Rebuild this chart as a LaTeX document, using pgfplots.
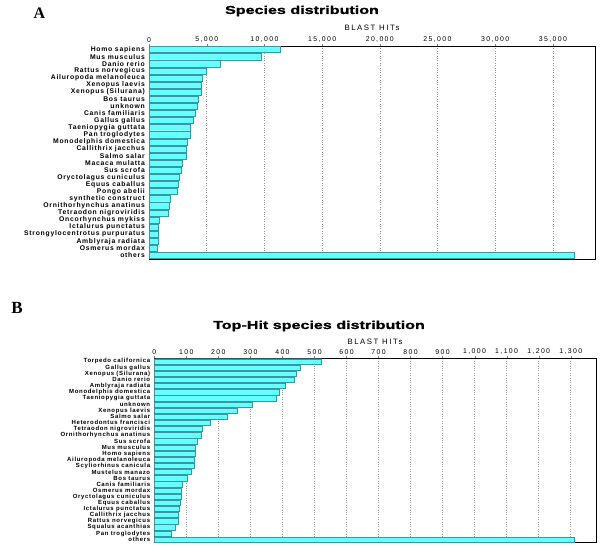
\documentclass[border=0pt]{standalone}
\usepackage{fontspec}
\usepackage{pgfplots}
\pgfplotsset{compat=1.18}
\setmainfont{Liberation Sans}
\newfontfamily\catfont[LetterSpace=11]{Liberation Sans}
\newfontfamily\tickfont[LetterSpace=20]{Liberation Sans}
\newfontfamily\titlefont[FakeStretch=1.4,FakeBold=1.2]{Liberation Sans Bold}
\newfontfamily\panelfont{Liberation Serif}
\definecolor{barfill}{RGB}{102,255,255}
\definecolor{baredge}{RGB}{60,150,160}
\pgfplotsset{
  hitaxis/.style={
    scale only axis, xbar, y dir=reverse,
    bar width=0.86, bar shift=0pt,
    xmin=0, ymin=-0.5, ymax=29.5,
    ytick={0,...,29},
    xtick pos=right, xticklabel pos=right,
    ytick style={draw=none},
    tick align=outside, major tick length=2pt,
    xmajorgrids, major grid style={dotted, gray!80, line width=0.5pt},
    axis line style={black, line width=0.6pt},
    scaled ticks=false,
    /pgf/number format/assume math mode=true,
    /pgf/number format/1000 sep={,},
    xticklabel style={font=\tickfont\fontsize{6.9}{7}\selectfont, inner sep=1.5pt},
    yticklabel style={font=\catfont\bfseries\fontsize{6.8}{7}\selectfont, inner sep=2pt},
  },
  hitbar/.style={fill=barfill, draw=baredge, line width=0.4pt},
}
\begin{document}
\begin{tikzpicture}
\path[use as bounding box] (0pt,0pt) rectangle (600pt,547pt);
% Panel A
\node[font=\panelfont\bfseries\fontsize{16}{18}\selectfont] at (39.5pt,534pt) {A};
\node[font=\titlefont\fontsize{11.5}{13}\selectfont] at (302pt,536pt) {Species distribution};
\node[font=\tickfont\fontsize{7.8}{8}\selectfont] at (372pt,519pt) {BLAST HITs};
\begin{axis}[hitaxis, at={(149pt,288pt)}, anchor=south west,
  width=446pt, height=213pt, xmax=38650, xtick distance=5000,
  yticklabels={Homo sapiens, Mus musculus, Danio rerio, Rattus norvegicus,
    Ailuropoda melanoleuca, Xenopus laevis, Xenopus (Silurana), Bos taurus,
    unknown, Canis familiaris, Gallus gallus, Taeniopygia guttata,
    Pan troglodytes, Monodelphis domestica, Callithrix jacchus, Salmo salar,
    Macaca mulatta, Sus scrofa, Oryctolagus cuniculus, Equus caballus,
    Pongo abelii, synthetic construct, Ornithorhynchus anatinus,
    Tetraodon nigroviridis, Oncorhynchus mykiss, Ictalurus punctatus,
    Strongylocentrotus purpuratus, Amblyraja radiata, Osmerus mordax, others}]
\addplot[hitbar] table {
x y
11350 0
9765 1
6190 2
5000 3
4650 4
4565 5
4500 6
4300 7
4150 8
4040 9
3800 10
3610 11
3540 12
3330 13
3260 14
3250 15
2920 16
2830 17
2630 18
2540 19
2430 20
1875 21
1790 22
1650 23
925 24
835 25
830 26
830 27
750 28
36830 29
};
\end{axis}
% Panel B
\node[font=\panelfont\bfseries\fontsize{17}{19}\selectfont] at (17pt,239pt) {B};
\node[font=\titlefont\fontsize{11.5}{13}\selectfont] at (319pt,221pt) {Top-Hit species distribution};
\node[font=\tickfont\fontsize{7.8}{8}\selectfont] at (375pt,205pt) {BLAST HITs};
\begin{axis}[hitaxis, at={(154.3pt,4.3pt)}, anchor=south west,
  width=441.7pt, height=184.4pt, xmax=1379, xtick distance=100,
  yticklabel style={font=\catfont\bfseries\fontsize{6}{6.5}\selectfont},
  yticklabels={Torpedo californica, Gallus gallus, Xenopus (Silurana), Danio rerio,
    Amblyraja radiata, Monodelphis domestica, Taeniopygia guttata, unknown,
    Xenopus laevis, Salmo salar, Heterodontus francisci, Tetraodon nigroviridis,
    Ornithorhynchus anatinus, Sus scrofa, Mus musculus, Homo sapiens,
    Ailuropoda melanoleuca, Scyliorhinus canicula, Mustelus manazo, Bos taurus,
    Canis familiaris, Osmerus mordax, Oryctolagus cuniculus, Equus caballus,
    Ictalurus punctatus, Callithrix jacchus, Rattus norvegicus, Squalus acanthias,
    Pan troglodytes, others}]
\addplot[hitbar] table {
x y
522 0
455 1
443 2
438 3
408 4
390 5
382 6
306 7
259 8
228 9
174 10
151 11
146 12
135 13
127 14
127 15
126 16
125 17
116 18
104 19
88 20
85 21
83 22
80 23
77 24
76 25
74 26
65 27
53 28
1311 29
};
\end{axis}
\end{tikzpicture}
\end{document}
